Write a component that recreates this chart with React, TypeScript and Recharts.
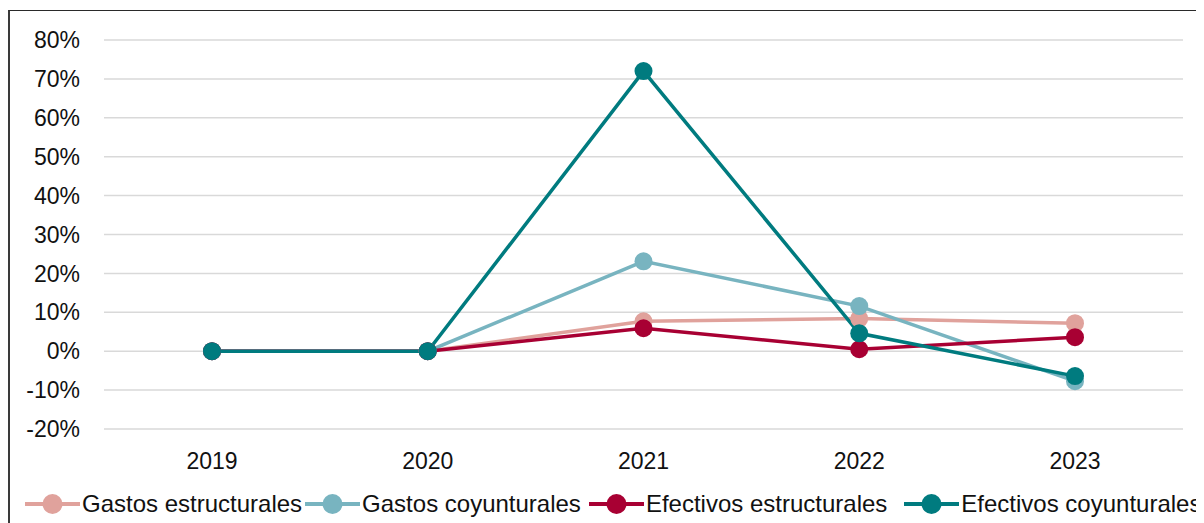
import { LineChart, Line, XAxis, YAxis, CartesianGrid, Legend } from 'recharts'

const years = ['2019', '2020', '2021', '2022', '2023']
const gastosEstructurales = [0, 0, 7.7, 8.4, 7.2]
const gastosCoyunturales = [0, 0, 23.1, 11.6, -7.7]
const efectivosEstructurales = [0, 0, 5.9, 0.5, 3.6]
const efectivosCoyunturales = [0, 0, 72, 4.6, -6.4]
const yTicks = [-20, -10, 0, 10, 20, 30, 40, 50, 60, 70, 80]

const SERIES = [
  { key: 'ge', name: 'Gastos estructurales', color: '#E0A29C', values: gastosEstructurales },
  { key: 'gc', name: 'Gastos coyunturales', color: '#78B4C0', values: gastosCoyunturales },
  { key: 'ee', name: 'Efectivos estructurales', color: '#A80033', values: efectivosEstructurales },
  { key: 'ec', name: 'Efectivos coyunturales', color: '#007B7F', values: efectivosCoyunturales },
]

const data = years.map((y, i) => {
  const row: Record<string, string | number> = { year: y }
  SERIES.forEach(s => { row[s.key] = s.values[i] })
  return row
})

const FONT = '"Liberation Sans", Arial, sans-serif'
// spacing after each legend entry, as in the original
const LEGEND_GAPS = [3, 8, 17, 0]

function LegendBox() {
  return (
    <div style={{ display: 'flex', justifyContent: 'flex-start', alignItems: 'center', height: 36, fontFamily: FONT, fontSize: 24, color: '#111', whiteSpace: 'nowrap', paddingLeft: 15 }}>
      {SERIES.map((s, i) => (
        <div key={s.key} style={{ display: 'flex', alignItems: 'center', marginRight: LEGEND_GAPS[i] }}>
          <svg width={55} height={22} style={{ marginRight: 2 }}>
            <line x1={0} y1={11} x2={55} y2={11} stroke={s.color} strokeWidth={4} />
            <circle cx={27.5} cy={11} r={10} fill={s.color} />
          </svg>
          <span>{s.name}</span>
        </div>
      ))}
    </div>
  )
}

export default function App() {
  return (
    <div style={{ marginTop: 2, width: 1196, height: 513, borderLeft: '2px solid #3a3a3a', borderTop: '1.5px solid #2a2a2a', fontFamily: FONT }}>
      <LineChart width={1194} height={511} data={data} margin={{ top: 29, right: 21, bottom: 0, left: 0 }}>
        <CartesianGrid vertical={false} stroke="#d9d9d9" strokeWidth={1.5} />
        <XAxis dataKey="year" axisLine={false} tickLine={false} tickSize={0} tickMargin={24} height={57}
          padding={{ left: 108, right: 108 }}
          tick={{ fontSize: 23, fill: '#111', fontFamily: FONT }} />
        <YAxis domain={[-20, 80]} ticks={yTicks} axisLine={false} tickLine={false} tickSize={0} tickMargin={24} width={94}
          tickFormatter={(v: number) => `${v}%`} tick={{ fontSize: 23, fill: '#111', fontFamily: FONT }} />
        <Legend verticalAlign="bottom" content={() => <LegendBox />} />
        {SERIES.map(s => (
          <Line key={s.key} dataKey={s.key} name={s.name} stroke={s.color} strokeWidth={3.5}
            dot={{ r: 9, fill: s.color, stroke: s.color, strokeWidth: 0 }} activeDot={false}
            isAnimationActive={false} />
        ))}
      </LineChart>
    </div>
  )
}
